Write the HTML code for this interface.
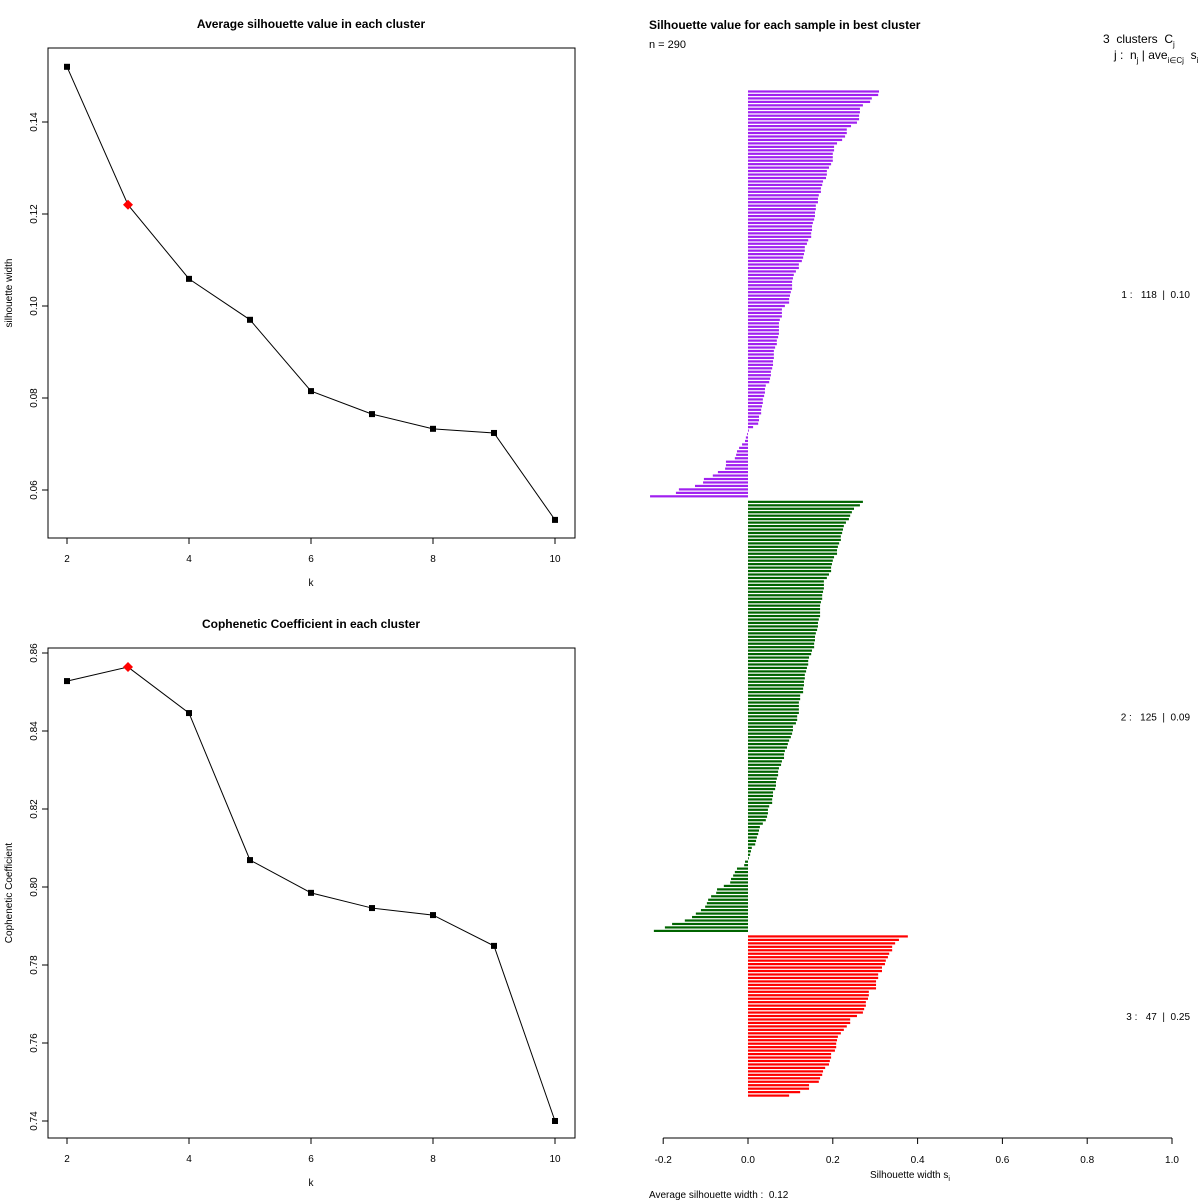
<!DOCTYPE html>
<html><head><meta charset="utf-8"><style>
body{margin:0;background:#fff}
svg{display:block;font-family:"Liberation Sans",sans-serif}
svg text{white-space:pre}
</style></head><body>
<svg id="s" width="1200" height="1200" viewBox="0 0 1200 1200" xmlns="http://www.w3.org/2000/svg" xml:space="preserve"></svg>
<script>
const kVals=[2,3,4,5,6,7,8,9,10];
const silAvg=[0.152,0.122,0.1059,0.0970,0.0815,0.0765,0.0733,0.0724,0.0535];
const cophVals=[0.8528,0.8564,0.8446,0.8069,0.7985,0.7946,0.7928,0.7849,0.7400];
const bestIdx=1;
const silTicks=[0.06,0.08,0.10,0.12,0.14];
const cophTicks=[0.74,0.76,0.78,0.80,0.82,0.84,0.86];
const kTicks=[2,4,6,8,10];
const cluster1=[0.309,0.307,0.292,0.288,0.271,0.264,0.264,0.262,0.262,0.257,0.243,0.233,0.233,0.229,0.222,0.210,0.203,0.203,0.200,0.200,0.200,0.196,0.191,0.186,0.186,0.184,0.177,0.175,0.172,0.172,0.167,0.165,0.165,0.160,0.160,0.158,0.158,0.156,0.153,0.151,0.151,0.149,0.149,0.142,0.139,0.134,0.134,0.132,0.130,0.127,0.120,0.120,0.113,0.108,0.106,0.104,0.104,0.104,0.101,
0.099,0.097,0.097,0.087,0.080,0.080,0.080,0.075,0.073,0.073,0.073,0.073,0.071,0.068,0.068,0.064,0.061,0.061,0.061,0.059,0.059,0.057,0.054,0.054,0.052,0.050,0.042,0.040,0.040,0.038,0.035,0.035,0.033,0.031,0.031,0.026,0.026,0.024,0.012,0.002,
-0.002,-0.005,-0.007,-0.014,-0.021,-0.026,-0.028,-0.031,-0.052,-0.052,-0.054,-0.071,-0.083,-0.104,-0.106,-0.125,-0.163,-0.170,-0.231];
const cluster2=[0.271,0.264,0.250,0.245,0.241,0.238,0.231,0.226,0.224,0.222,0.219,0.219,0.215,0.212,0.210,0.210,0.203,0.200,0.198,0.196,0.196,0.191,0.186,0.179,0.179,0.179,0.177,0.175,0.175,0.172,0.170,0.170,0.170,0.170,0.167,0.165,0.165,0.163,0.160,0.158,0.158,0.156,0.156,0.151,0.149,0.144,0.142,0.142,0.139,0.137,0.134,0.134,0.132,0.132,0.130,0.130,0.123,0.123,0.120,0.120,0.120,0.120,0.116,
0.116,0.113,0.106,0.106,0.104,0.101,0.097,0.094,0.092,0.087,0.085,0.085,0.080,0.078,0.073,0.071,0.071,0.068,0.066,0.066,0.064,0.059,0.059,0.057,0.057,0.050,0.047,0.047,0.045,0.042,0.035,0.028,0.026,0.024,0.021,0.019,0.017,0.009,0.007,0.005,0.002,
-0.007,-0.009,-0.026,-0.031,-0.035,-0.040,-0.042,-0.057,-0.073,-0.075,-0.087,-0.094,-0.097,-0.101,-0.111,-0.123,-0.132,-0.149,-0.179,-0.196,-0.222];
const cluster3=[0.377,0.356,0.347,0.340,0.340,0.333,0.330,0.325,0.323,0.316,0.316,0.307,0.307,0.302,0.302,0.302,0.285,0.285,0.283,0.278,0.278,0.274,0.271,0.257,0.241,0.241,0.233,0.226,0.219,0.212,0.210,0.208,0.208,0.205,0.196,0.196,0.193,0.191,0.182,0.177,0.175,0.170,0.167,0.144,0.144,0.123,0.097];
const clusterColors=["#a020f0","#006400","#ff0000"];
const clusterLabels=["1 :   118  |  0.10","2 :   125  |  0.09","3 :   47  |  0.25"];
const silXTicks=[-0.2,0,0.2,0.4,0.6,0.8,1.0];
const silXLabels=["-0.2","0.0","0.2","0.4","0.6","0.8","1.0"];

const S=document.getElementById('s');
const NS="http://www.w3.org/2000/svg";
function mk(tag,attrs,parent,text){const e=document.createElementNS(NS,tag);for(const k in attrs)e.setAttribute(k,attrs[k]);if(text!==undefined)e.textContent=text;(parent||S).appendChild(e);return e;}

function linePanel(name,top,vals,ticks,yMin,yMax,pxMin,pxMax,title,ylab){
  const g=mk('g',{},S);
  
  
  const L=48,R=575,T=top,B=top+490;
  const xs=k=>67+(k-2)*61;
  const ys=v=>pxMin+(v-yMin)/(yMax-yMin)*(pxMax-pxMin);
  const box=mk('rect',{x:L,y:T,width:R-L,height:B-T,fill:'none',stroke:'#000','stroke-width':1},g);
  
  
  const t=mk('text',{x:311,y:top-20,'text-anchor':'middle','font-size':12,'font-weight':'bold'},g,title);
  
  
  kTicks.forEach(k=>{mk('line',{x1:xs(k),x2:xs(k),y1:B,y2:B+6,stroke:'#000'},g);
    const tl=mk('text',{x:xs(k),y:B+24,'text-anchor':'middle','font-size':10},g,String(k));
    
    });
  const xl=mk('text',{x:311,y:B+48,'text-anchor':'middle','font-size':10},g,'k');
  
  
  ticks.forEach(v=>{const y=ys(v);mk('line',{x1:L-6,x2:L,y1:y,y2:y,stroke:'#000'},g);
    const tl=mk('text',{x:37,y:y,'text-anchor':'middle','font-size':10,transform:`rotate(-90 37 ${y})`},g,v.toFixed(2));
    
    });
  const yl=mk('text',{x:12,y:(T+B)/2,'text-anchor':'middle','font-size':10,transform:`rotate(-90 12 ${(T+B)/2})`},g,ylab);
  
  
  const pts=kVals.map((k,i)=>xs(k)+','+ys(vals[i])).join(' ');
  const pl=mk('polyline',{points:pts,fill:'none',stroke:'#000','stroke-width':1},g);
  
  
  kVals.forEach((k,i)=>{const x=xs(k),y=ys(vals[i]);
    if(i===bestIdx){const d=mk('polygon',{points:`${x},${y-5} ${x+5},${y} ${x},${y+5} ${x-5},${y}`,fill:'#ff0000'},g);
      
      }
    else{const r=mk('rect',{x:x-3,y:y-3,width:6,height:6,fill:'#000'},g);
      
      }});
}
linePanel('avg-silhouette-chart',48,silAvg,silTicks,0.06,0.14,490,122,'Average silhouette value in each cluster','silhouette width');
linePanel('cophenetic-chart',648,cophVals,cophTicks,0.74,0.86,1121,653,'Cophenetic Coefficient in each cluster','Cophenetic Coefficient');

const g2=mk('g',{},S);


const sx=v=>748+v*424;
const sp=3.46, gap=1.6*sp;
let yc=91.5;
[cluster1,cluster2,cluster3].forEach((arr,ci)=>{
  const y0=yc;
  arr.forEach(v=>{const x1=Math.min(sx(0),sx(v)),w=Math.abs(sx(v)-sx(0));
    const r=mk('rect',{x:x1,y:yc-1.1,width:w,height:2.2,fill:clusterColors[ci]},g2);
    
    
    yc+=sp;});
  const mid=(y0+yc-sp)/2;
  const lb=mk('text',{x:1190,y:mid+4,'text-anchor':'end','font-size':10},g2,clusterLabels[ci]);
  
  
  yc+=gap-sp;
});
mk('line',{x1:sx(-0.2),x2:sx(1.0),y1:1138,y2:1138,stroke:'#000'},g2);
silXTicks.forEach((v,i)=>{mk('line',{x1:sx(v),x2:sx(v),y1:1138,y2:1144,stroke:'#000'},g2);
  const tl=mk('text',{x:sx(v),y:1163,'text-anchor':'middle','font-size':10},g2,silXLabels[i]);
  
  });
const ax=mk('text',{x:910,y:1178,'text-anchor':'middle','font-size':10},g2);


ax.innerHTML='Silhouette width s<tspan font-size="7" dy="3">i</tspan>';
const t3=mk('text',{x:649,y:29,'font-size':12,'font-weight':'bold'},g2,'Silhouette value for each sample in best cluster');


const nn=mk('text',{x:649,y:48,'font-size':11},g2,'n = 290');


const av=mk('text',{x:649,y:1198,'font-size':10},g2,'Average silhouette width :  0.12');


const h1=mk('text',{x:1103,y:43,'font-size':12},g2);


h1.innerHTML='3  clusters  C<tspan font-size="8" dy="4">j</tspan>';
const h2=mk('text',{x:1114,y:59,'font-size':12},g2);


h2.innerHTML='j :  n<tspan font-size="8" dy="4">j</tspan><tspan dy="-4"> | ave</tspan><tspan font-size="8" dy="4">i∈Cj</tspan><tspan dy="-4">  s</tspan><tspan font-size="8" dy="4">i</tspan>';
</script>
</body></html>
